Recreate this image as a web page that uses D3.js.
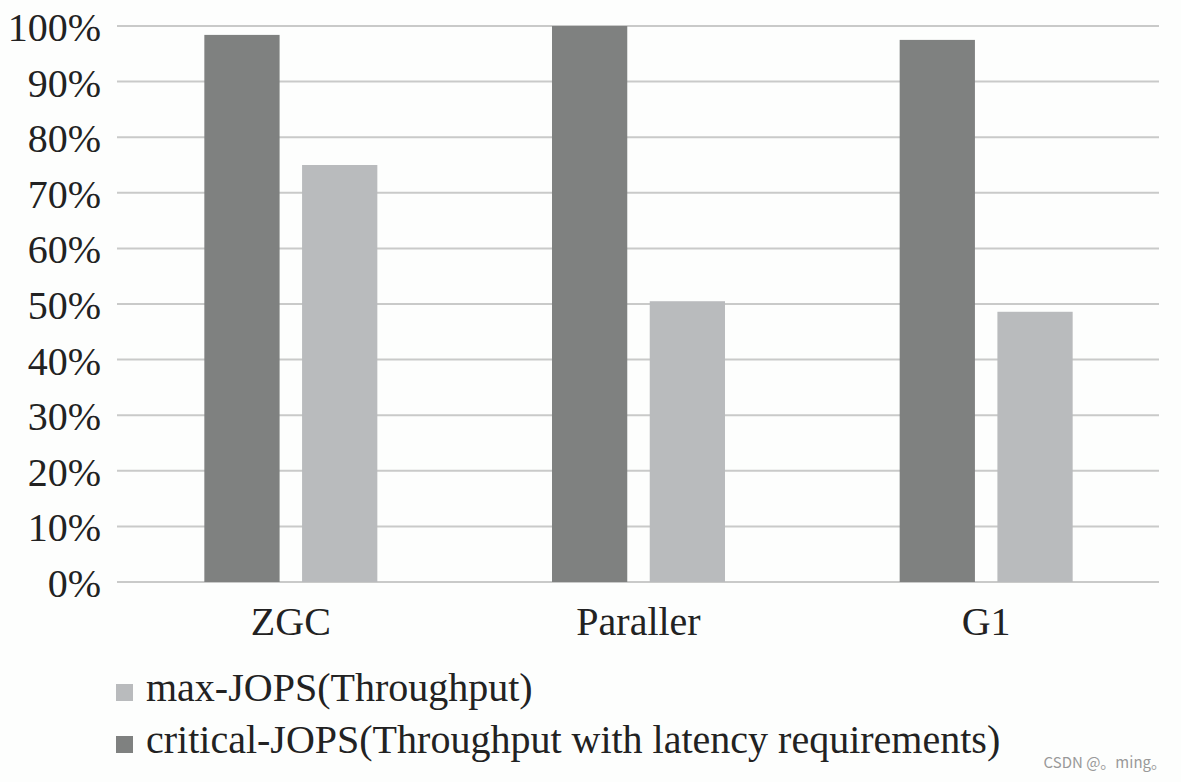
<!DOCTYPE html>
<html><head><meta charset="utf-8">
<script src="https://cdn.jsdelivr.net/npm/d3@7"></script>
<style>body{margin:0;background:#fdfefd}svg{display:block}</style>
</head><body>
<svg id="c" width="1181" height="782"></svg>
<script>
const categories = ["ZGC", "Paraller", "G1"];
const seriesNames = ["critical-JOPS(Throughput with latency requirements)", "max-JOPS(Throughput)"];
const criticalJOPS = [98.4, 100, 97.5];
const maxJOPS = [75.0, 50.5, 48.6];
const yTicks = [0,10,20,30,40,50,60,70,80,90,100];
const legendOrder = ["max-JOPS(Throughput)", "critical-JOPS(Throughput with latency requirements)"];
const watermark = "CSDN @。ming。";

const colors = {"critical-JOPS(Throughput with latency requirements)": "#7f8180", "max-JOPS(Throughput)": "#b9bbbd"};
const svg = d3.select("#c");
svg.append("rect").attr("width",1181).attr("height",782).attr("fill","#fdfefd");

const x0 = d3.scaleBand().domain(categories).range([117,1160]).paddingInner(0).paddingOuter(0);
const y = d3.scaleLinear().domain([0,100]).range([582,26]);
const groupW = 173;
const x1 = d3.scaleBand().domain(seriesNames).range([0,groupW]).paddingInner(0.23).paddingOuter(0);

const serif = "'Liberation Serif','Times New Roman',serif";

// grid
const yAxis = d3.axisLeft(y).tickValues(yTicks).tickFormat(d=>d+"%").tickSize(0).tickPadding(0);
const gy = svg.append("g").attr("transform","translate(117,0)").call(yAxis);
gy.select(".domain").remove();
gy.selectAll("text").attr("x",-16).attr("dy","0.36em").style("font-family",serif).style("font-size","40px").attr("fill","#222");
svg.append("g").selectAll("line").data(yTicks).join("line")
  .attr("x1",117).attr("x2",1159).attr("y1",d=>y(d)).attr("y2",d=>y(d))
  .attr("stroke","#c9cac9").attr("stroke-width",2);

const data = categories.map((c,i)=>({cat:c, vals:[{s:seriesNames[0],v:criticalJOPS[i]},{s:seriesNames[1],v:maxJOPS[i]}]}));
const g = svg.append("g").selectAll("g").data(data).join("g")
  .attr("transform",d=>`translate(${x0(d.cat)+(x0.bandwidth()-groupW)/2},0)`);
g.selectAll("rect").data(d=>d.vals).join("rect")
  .attr("x",d=>x1(d.s)).attr("width",x1.bandwidth())
  .attr("y",d=>y(d.v)).attr("height",d=>y(0)-y(d.v))
  .attr("fill",d=>colors[d.s]);

// x axis labels
const xAxis = d3.axisBottom(x0).tickSize(0).tickPadding(0);
const gx = svg.append("g").attr("transform","translate(0,582)").call(xAxis);
gx.select(".domain").remove();
gx.selectAll("text").attr("y",53).attr("dy",0).style("font-family",serif).style("font-size","40px").attr("fill","#222");

// legend
const leg = svg.append("g").selectAll("g").data(legendOrder).join("g")
  .attr("transform",(d,i)=>`translate(116,${684+i*52})`);
leg.append("rect").attr("width",17).attr("height",17).attr("fill",d=>colors[d]);
leg.append("text").attr("x",30).attr("y",17).text(d=>d)
  .style("font-family",serif).style("font-size","40px").attr("fill","#222");

svg.append("text").attr("x",1166).attr("y",768).attr("text-anchor","end").text(watermark)
  .style("font-family","'Noto Sans CJK SC','Noto Sans',sans-serif").style("font-size","15px").attr("fill","#999");
</script>
</body></html>
